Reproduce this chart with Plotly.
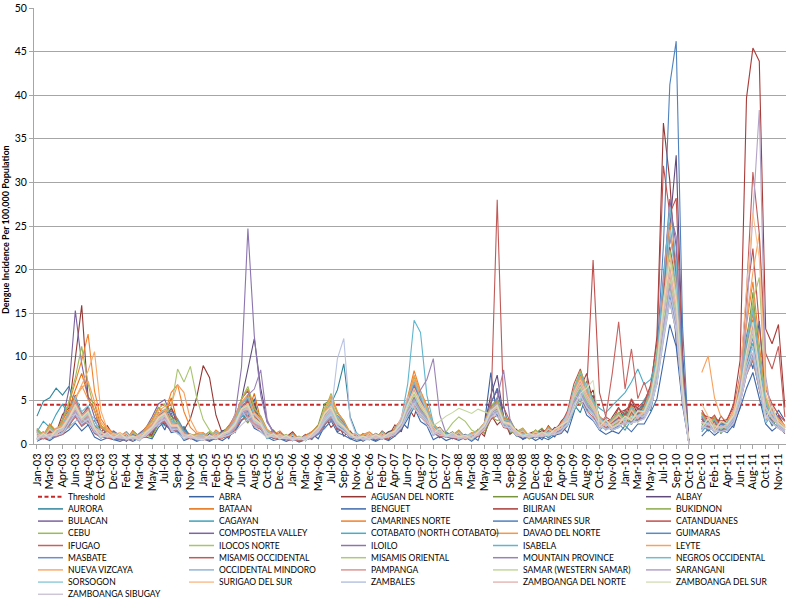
import plotly.graph_objects as go
import pandas as pd

# ---------------- data (4-weekly samples, first sample 2003-01-05) ----------------
START_DATE = "2003-01-05"
N_POINTS = 118
THRESHOLD = 4.5

TICK_LABELS = ["Jan-03","Mar-03","Apr-03","Jun-03","Aug-03","Oct-03","Dec-03",
               "Feb-04","Mar-04","May-04","Jul-04","Sep-04","Nov-04",
               "Jan-05","Feb-05","Apr-05","Jun-05","Aug-05","Oct-05","Dec-05",
               "Jan-06","Mar-06","May-06","Jul-06","Sep-06","Nov-06","Dec-06",
               "Feb-07","Apr-07","Jun-07","Aug-07","Oct-07","Dec-07",
               "Jan-08","Mar-08","May-08","Jul-08","Sep-08","Nov-08","Dec-08",
               "Feb-09","Apr-09","Jun-09","Aug-09","Oct-09","Nov-09",
               "Jan-10","Mar-10","May-10","Jul-10","Sep-10","Oct-10","Dec-10",
               "Feb-11","Apr-11","Jun-11","Aug-11","Oct-11","Nov-11"]

ABRA = [0.9,1.4,0.6,1.8,1.1,2.6,3.9,2.2,3.1,1.4,0.8,1.2,0.5,
        0.7,0.3,1.1,0.6,1.3,0.8,2.9,1.6,3.6,1.2,1.9,0.7,0.4,
        1.0,0.4,0.8,1.5,0.6,2.3,4.4,3.1,5.2,1.7,0.9,1.3,0.6,
        0.5,0.9,0.3,0.7,1.2,0.6,2.1,4.3,1.4,1.8,0.6,0.9,0.3,
        0.8,0.4,1.1,0.5,1.4,2.6,1.8,5.9,3.2,4.6,1.5,0.7,1.2,
        0.6,1.2,0.5,0.9,0.4,2.3,8.2,3.1,4.4,1.2,1.6,0.5,0.9,
        1.1,0.5,1.4,0.8,2.1,1.3,3.6,6.4,3.8,5.1,2.2,1.7,2.6,
        3.4,2.1,4.6,2.8,3.9,5.6,6.9,14.8,22.4,11.6,6.2,0,None,
        2.9,1.6,3.1,1.2,2.4,1.9,4.3,11.2,8.6,14.1,4.8,2.3,3.9,
        2.7]
AGUSAN_DEL_NORTE = [1.6,0.8,2.2,1.3,3.4,4.1,9.8,15.9,5.2,3.9,1.4,2.1,0.9,
        1.2,0.5,1.5,0.8,1.9,1.4,3.6,2.1,4.2,2.6,1.6,2.9,5.4,
        9.0,7.6,3.3,1.2,2.1,1.6,4.1,2.8,4.7,2.2,1.5,0.9,1.3,
        0.8,1.4,0.5,1.1,0.6,1.8,3.3,1.9,2.6,0.9,1.5,0.6,0.9,
        1.1,0.6,1.5,0.9,2.2,1.4,4.3,3.1,5.6,2.3,1.8,0.8,1.4,
        0.7,1.3,0.6,1.1,1.6,0.9,3.4,2.2,2.9,1.1,1.7,0.8,1.2,
        1.5,0.8,2.1,1.2,2.6,3.4,4.9,7.3,5.1,6.2,2.8,1.9,3.1,
        4.2,2.6,5.1,3.3,4.4,6.2,12.4,36.8,30.2,18.5,8.6,0,None,
        3.6,2.2,1.4,2.7,1.6,3.9,5.3,12.1,9.4,7.2,3.1,4.4,2.3,
        1.9]
AGUSAN_DEL_SUR = [1.3,0.7,1.8,1.1,2.4,1.9,4.2,2.6,3.5,1.7,2.2,0.9,1.4,
        0.8,1.3,0.5,1.0,1.6,0.9,2.4,3.3,1.8,2.7,1.2,0.6,1.1,
        0.9,0.5,1.2,0.7,1.8,1.3,3.4,2.4,4.1,1.9,1.1,1.6,0.7,
        1.0,0.4,0.8,0.5,1.3,2.2,4.6,5.1,2.3,1.6,0.9,0.5,1.2,
        0.7,1.2,0.6,1.4,0.9,2.7,3.1,5.4,3.3,2.8,1.3,1.9,0.8,
        1.4,0.7,1.1,0.6,1.7,1.2,2.8,3.9,2.1,2.4,1.0,1.5,0.7,
        1.2,1.8,0.9,1.6,2.3,2.9,6.1,4.8,7.2,3.5,2.6,1.9,2.4,
        2.8,3.6,2.2,4.1,3.2,5.3,8.9,13.9,19.3,15.2,7.1,0,None,
        2.6,1.7,2.9,1.3,2.2,3.6,6.7,11.2,17.4,9.1,4.3,2.8,3.1,
        1.8]
ALBAY = [0.6,1.2,0.7,1.5,1.9,3.6,5.6,3.2,4.3,1.9,0.9,1.5,1.0,
        1.1,0.5,1.0,0.6,1.4,1.8,3.4,2.2,1.6,2.5,1.3,0.7,1.2,
        0.6,1.2,0.8,1.5,1.8,2.9,5.1,8.6,12.1,6.4,2.6,1.4,0.9,
        0.6,1.1,0.5,1.0,1.3,1.6,2.9,3.4,1.8,1.3,0.9,0.5,1.0,
        0.6,1.2,0.9,1.4,1.7,2.5,4.6,6.3,4.1,3.7,1.6,1.9,1.1,
        1.3,0.7,1.1,0.6,1.5,2.1,5.6,7.9,3.1,2.6,1.5,0.8,1.2,
        0.8,1.5,1.1,1.9,1.6,2.8,4.9,6.3,4.4,5.6,2.1,2.9,1.6,
        2.4,3.4,2.6,4.1,3.6,5.8,8.6,17.6,24.8,33.1,10.4,0,None,
        1.9,2.9,1.7,3.2,2.3,2.9,5.4,9.1,12.3,6.6,4.2,2.7,3.3,
        2.0]
AURORA = [3.2,4.9,5.3,6.4,5.6,6.6,4.2,3.6,2.1,2.7,1.3,0.8,1.4,
        0.9,0.5,1.3,0.7,1.6,1.1,2.6,3.3,2.2,1.5,2.0,0.8,0.6,
        1.2,0.6,0.9,1.4,0.8,1.9,3.6,2.7,4.3,1.8,1.3,0.6,1.1,
        0.6,1.1,0.4,0.9,0.5,1.4,2.5,4.6,6.2,9.2,3.1,1.2,0.7,
        1.0,0.5,1.3,0.8,1.7,2.2,4.1,5.5,3.4,2.9,1.2,1.7,0.8,
        1.3,0.6,1.0,0.5,1.4,1.9,4.1,5.3,2.6,1.9,0.9,1.3,0.6,
        0.9,1.5,0.7,1.3,1.9,2.6,4.5,3.6,5.7,3.3,2.4,1.6,2.3,
        2.6,3.9,2.4,3.5,4.6,3.8,7.4,12.9,17.8,14.6,6.3,0,None,
        2.4,1.5,2.8,1.3,1.8,3.1,4.9,8.8,10.4,7.1,3.6,2.1,2.9,
        1.6]
BATAAN = [1.7,0.9,2.1,1.4,2.8,3.9,6.2,8.1,5.4,4.6,2.1,1.6,1.1,
        1.2,0.6,1.5,0.9,1.8,2.6,4.2,3.1,5.3,2.4,1.5,1.1,0.7,
        0.9,1.4,0.6,1.3,1.9,2.8,4.9,3.6,5.8,2.7,1.6,0.8,1.2,
        0.7,1.2,0.5,0.9,1.4,1.9,3.5,4.8,2.6,2.2,1.0,0.6,0.9,
        1.3,0.7,1.1,0.6,1.8,2.9,5.1,7.2,4.6,3.9,1.7,1.3,0.9,
        0.8,1.5,0.7,1.2,0.9,2.4,3.9,4.8,2.9,2.6,1.2,1.6,0.8,
        1.4,0.9,1.8,1.2,2.4,3.1,5.6,7.6,5.2,4.4,2.9,2.1,1.7,
        3.1,2.2,3.6,2.6,4.2,5.9,8.4,13.8,21.5,16.1,7.4,0,None,
        3.2,2.0,1.6,2.5,1.9,3.3,6.4,10.6,14.3,8.2,4.1,3.4,2.2,
        1.9]
BENGUET = [0.3,0.7,0.4,0.9,1.1,1.6,2.4,1.5,2.2,0.8,0.4,0.7,0.5,
        0.3,0.6,0.3,0.7,0.8,0.6,1.9,2.6,1.3,1.5,0.4,0.7,0.3,
        0.6,0.3,0.7,0.4,0.9,1.4,2.7,3.3,1.8,1.4,0.8,0.4,0.6,
        0.3,0.6,0.2,0.5,0.7,1.1,1.8,2.7,1.3,1.0,0.6,0.3,0.5,
        0.6,0.3,0.7,0.4,0.9,1.6,2.9,4.2,2.6,2.1,0.5,0.9,0.4,
        0.7,0.4,0.8,0.3,0.9,1.8,4.6,6.4,3.1,1.9,1.0,0.6,0.9,
        0.4,0.8,0.5,1.0,1.2,2.1,3.8,5.2,3.3,2.7,1.6,1.1,1.5,
        1.2,2.1,1.4,2.3,2.3,3.6,5.2,9.4,13.7,11.2,4.4,0,None,
        0.9,1.7,1.0,1.6,1.3,2.2,4.1,6.4,8.2,5.4,2.3,1.5,2.1,
        1.2]
BILIRAN = [1.0,1.1,1.3,1.4,1.9,3.1,4.4,2.8,3.6,1.9,1.4,1.2,1.0,
        0.9,0.8,0.9,1.1,1.3,1.0,2.8,3.3,4.1,2.2,1.5,1.1,0.9,
        0.8,0.9,0.8,1.1,1.5,2.6,3.7,5.1,2.9,2.3,1.3,1.0,0.9,
        0.8,0.7,0.7,0.8,1.0,1.5,2.4,3.2,1.7,1.5,1.0,0.8,0.7,
        0.9,0.9,1.0,1.2,1.6,2.4,4.1,5.6,3.7,3.1,1.6,1.2,1.1,
        1.0,0.9,0.9,1.0,1.3,2.1,3.6,4.3,2.4,2.1,1.3,1.1,1.0,
        1.3,1.5,1.6,1.7,2.4,3.2,5.3,6.4,8.1,4.6,3.1,2.6,2.8,
        3.6,3.9,4.4,4.2,4.9,6.6,9.9,15.7,22.6,18.3,7.6,0,None,
        3.4,3.1,2.9,2.6,2.8,4.6,9.6,39.7,45.4,43.9,13.2,11.5,13.7,
        4.2]
BUKIDNON = [0.9,0.8,1.0,1.2,1.5,1.9,3.6,2.3,2.9,1.4,1.2,1.0,0.9,
        0.8,0.7,0.7,0.9,1.0,0.8,2.3,2.9,3.4,1.6,1.2,1.0,0.8,
        0.7,0.7,0.8,0.9,1.2,2.1,3.3,2.6,4.0,1.8,1.1,0.9,0.8,
        0.7,0.6,0.6,0.7,0.9,1.8,4.1,5.0,2.8,1.9,1.0,0.8,0.7,
        0.8,0.8,0.9,0.9,1.3,2.3,3.6,4.7,3.1,2.6,1.4,1.1,1.0,
        0.8,0.8,0.8,0.9,1.1,1.8,3.1,2.7,2.9,1.4,1.2,0.9,0.8,
        1.0,1.1,1.2,1.4,1.7,2.8,5.6,4.4,6.9,3.6,2.4,2.0,2.1,
        2.5,2.7,2.9,3.1,3.4,4.9,8.7,13.1,18.2,13.3,5.4,0,None,
        2.2,2.0,1.8,1.7,1.9,2.7,5.1,8.7,9.6,6.4,3.5,2.6,2.4,
        1.6]
BULACAN = [1.6,0.9,2.1,1.3,2.8,6.2,15.3,9.2,5.4,3.1,1.9,1.2,1.5,
        0.9,1.4,0.6,1.2,1.8,3.1,4.6,5.1,3.2,2.6,1.3,0.9,0.6,
        1.1,0.6,1.3,0.8,1.9,2.8,5.2,6.1,3.8,2.9,1.4,1.1,0.7,
        0.6,1.1,0.5,0.9,1.2,1.9,3.1,3.6,2.1,1.8,0.8,1.2,0.6,
        1.2,0.7,1.0,0.6,1.6,2.6,4.9,6.6,5.1,3.8,1.9,1.3,0.9,
        0.8,1.3,0.6,1.1,1.5,2.4,4.8,6.1,3.1,2.6,1.2,1.5,0.7,
        1.2,0.8,1.7,1.1,2.2,3.1,5.7,7.3,5.4,4.3,2.6,1.9,2.6,
        3.3,2.4,4.1,2.9,3.8,5.3,9.4,16.4,23.7,20.6,7.8,0,None,
        2.9,1.8,2.6,1.4,2.3,3.4,5.9,10.2,13.6,8.3,4.4,2.8,3.2,
        1.9]
CAGAYAN = [1.4,2.6,1.9,3.4,4.6,3.2,3.8,2.1,2.6,1.3,0.8,1.4,0.7,
        1.2,0.6,1.0,0.5,1.3,1.8,2.6,2.1,2.9,1.3,0.6,1.1,0.8,
        0.5,1.0,0.6,1.2,1.4,1.9,3.1,3.6,2.2,1.9,0.6,1.0,0.5,
        0.9,0.4,0.8,0.4,0.9,1.3,2.2,3.1,3.6,2.6,0.7,1.1,0.6,
        0.5,1.0,0.6,1.2,1.4,2.1,3.6,4.8,3.2,2.7,1.5,1.0,1.3,
        1.1,0.6,1.0,0.5,1.1,1.7,3.2,3.6,2.1,2.0,1.2,0.8,1.1,
        0.7,1.2,0.8,1.4,1.6,2.4,4.5,5.8,4.1,3.4,1.6,2.2,1.5,
        2.3,1.6,2.8,3.6,5.1,5.9,8.4,14.1,20.5,14.6,5.3,0,None,
        1.4,2.3,1.5,2.2,1.7,2.8,4.9,8.3,9.8,6.4,2.4,3.4,1.9,
        1.5]
CAMARINES_NORTE = [1.8,1.0,2.3,1.5,2.6,4.6,7.1,9.6,12.6,6.1,2.9,1.8,1.3,
        1.1,0.6,1.4,0.9,1.8,2.8,4.2,3.6,5.9,6.8,3.7,1.9,1.2,
        1.3,0.7,1.6,1.0,2.1,3.2,5.1,6.3,4.1,3.2,1.7,1.1,1.5,
        0.7,1.2,0.5,1.0,1.4,2.1,3.8,5.3,3.6,2.7,1.3,0.9,1.1,
        1.4,0.8,1.3,0.7,1.9,2.8,5.4,8.4,6.1,4.4,2.3,1.6,1.1,
        1.0,1.6,0.8,1.3,1.1,2.5,4.3,4.9,3.0,2.8,1.4,1.8,0.9,
        1.6,1.0,2.0,1.3,2.4,3.4,6.3,8.1,6.2,5.1,3.2,2.3,2.9,
        3.6,2.7,4.4,3.1,4.3,6.1,9.8,17.1,25.4,19.3,8.1,0,None,
        3.6,2.3,3.1,1.7,2.6,3.8,6.9,13.7,18.6,11.4,5.3,3.6,2.8,
        2.1]
CAMARINES_SUR = [1.0,1.0,1.1,1.3,1.8,3.1,4.8,3.2,3.9,1.9,1.4,1.1,1.0,
        0.9,0.8,0.9,1.0,1.3,2.1,3.2,3.8,2.4,2.2,1.3,1.0,0.8,
        0.8,0.9,0.9,1.0,1.4,2.4,4.2,5.1,3.3,2.6,1.5,1.1,0.9,
        0.8,0.7,0.7,0.8,1.1,1.6,2.9,3.9,2.4,1.9,1.1,0.9,0.8,
        0.8,0.8,0.9,1.0,1.4,2.5,4.6,6.8,5.1,3.6,1.9,1.4,1.1,
        1.0,0.9,0.9,1.0,1.3,2.2,3.8,4.6,2.7,2.4,1.4,1.1,1.0,
        1.1,1.2,1.3,1.5,2.1,3.3,5.9,7.9,6.1,4.6,2.9,2.3,2.5,
        3.0,3.2,3.3,3.6,3.9,5.9,10.3,22.8,41.2,46.2,13.4,0,None,
        2.9,2.6,2.3,2.1,2.4,3.5,6.6,12.4,15.8,9.8,4.7,3.3,2.6,
        1.9]
CATANDUANES = [1.4,0.7,1.8,1.1,2.3,3.4,5.1,3.3,4.2,2.1,1.4,0.9,1.3,
        0.8,1.3,0.6,1.1,1.5,2.2,3.3,3.6,2.1,2.4,1.2,0.8,0.6,
        1.1,0.6,1.2,0.8,1.7,2.6,4.3,4.9,3.1,2.6,1.5,0.8,1.2,
        0.6,1.1,0.5,0.9,1.2,1.7,2.8,3.5,2.2,1.9,0.8,1.1,0.5,
        1.0,0.6,1.1,0.7,1.6,2.4,4.4,5.9,4.3,3.4,1.9,1.3,0.9,
        0.9,1.3,0.7,1.1,1.5,2.1,3.6,4.3,2.6,2.4,1.1,1.4,0.8,
        1.5,1.0,1.9,1.4,2.3,3.8,6.9,8.6,6.2,21.1,5.9,3.1,2.6,
        4.1,3.3,5.2,3.9,4.6,6.8,11.7,31.9,26.4,28.2,9.4,0,None,
        3.9,2.6,3.3,2.0,2.9,4.2,7.9,16.8,22.4,13.6,6.3,4.6,3.4,
        2.6]
CEBU = [1.7,1.0,2.1,1.3,2.8,4.9,7.6,11.2,6.9,3.8,2.1,1.5,1.1,
        1.1,0.6,1.4,0.9,1.7,2.6,4.1,4.6,2.9,2.6,1.5,0.9,1.2,
        0.9,1.4,0.7,1.3,1.9,2.9,5.2,6.6,4.1,3.2,1.6,1.1,0.8,
        1.1,0.6,0.9,0.5,1.3,1.9,3.8,5.8,3.7,2.6,1.2,0.8,1.0,
        1.2,0.7,1.4,0.9,1.7,2.8,5.2,7.7,5.6,4.3,2.2,1.5,1.0,
        1.0,1.5,0.7,1.2,1.6,2.4,4.3,5.1,3.1,2.8,1.4,1.8,0.9,
        1.6,1.0,1.9,1.3,2.3,3.4,6.4,8.4,6.6,5.1,3.1,2.3,2.9,
        3.6,2.8,4.3,3.2,4.2,6.1,10.6,16.9,22.3,17.6,7.3,0,None,
        3.4,2.2,2.9,1.6,2.5,3.6,6.8,11.8,16.1,10.3,4.9,3.4,2.7,
        2.0]
COMPOSTELA_VALLEY = [0.6,1.1,0.7,1.4,1.8,2.7,3.9,2.6,3.2,1.6,0.7,1.2,0.6,
        1.0,0.5,0.9,0.4,1.2,1.7,2.5,2.9,1.8,1.9,0.6,1.0,0.5,
        0.5,0.9,0.5,1.1,1.4,2.0,3.4,3.7,2.3,2.0,0.7,1.1,0.6,
        0.9,0.5,0.8,0.4,1.0,1.8,3.6,4.5,2.6,1.9,1.1,0.6,0.9,
        0.6,1.0,0.6,1.1,1.4,2.4,4.1,5.4,4.0,3.2,1.0,1.5,0.8,
        1.1,0.6,0.9,0.5,1.3,2.0,3.4,4.1,2.4,2.2,1.3,0.7,1.1,
        0.8,1.3,0.9,1.5,1.9,2.9,5.4,6.9,5.3,4.2,1.9,2.6,1.7,
        2.1,2.9,2.4,3.6,3.5,5.1,8.7,18.3,28.1,22.6,7.9,0,None,
        1.7,2.6,1.5,2.3,2.0,3.1,5.7,9.8,12.7,7.8,2.8,4.1,2.3,
        1.7]
COTABATO = [1.0,1.0,1.2,1.4,1.8,2.9,4.2,2.8,3.4,1.8,1.3,1.1,0.9,
        0.9,0.8,0.8,0.9,1.2,1.8,2.8,3.2,2.0,2.1,1.2,0.9,0.8,
        0.8,0.8,0.9,1.1,1.3,2.2,3.6,4.0,2.6,2.2,1.3,1.0,0.9,
        0.8,0.7,0.7,0.8,1.0,1.7,3.3,4.1,3.0,2.1,1.2,0.9,0.8,
        0.9,0.9,1.0,1.1,1.4,2.4,4.3,5.7,4.3,3.3,1.7,1.3,1.1,
        1.0,0.9,0.9,1.0,1.2,2.0,3.5,4.2,2.5,2.2,1.3,1.1,1.0,
        1.1,1.2,1.3,1.4,2.0,3.1,5.7,6.6,4.9,4.8,4.1,3.6,4.4,
        5.2,5.9,7.1,8.6,6.8,7.4,9.6,14.8,17.9,20.2,7.1,0,None,
        2.6,2.3,2.1,1.9,2.1,3.0,5.4,9.1,11.6,7.3,3.9,2.9,2.3,
        1.7]
DAVAO_DEL_NORTE = [1.5,0.8,1.9,1.2,2.4,3.7,5.1,6.7,5.1,3.8,2.0,1.4,1.0,
        0.9,1.4,0.6,1.1,1.5,2.2,3.5,3.9,2.6,2.4,1.3,0.8,1.1,
        1.1,0.6,1.3,0.8,1.7,2.7,4.5,5.4,3.6,2.8,1.5,0.9,1.2,
        0.7,1.1,0.5,0.9,1.2,2.0,4.1,5.5,3.7,2.5,1.1,0.8,1.0,
        1.3,0.7,1.2,0.7,1.7,2.9,5.1,7.9,6.0,4.3,2.3,1.5,1.0,
        0.9,1.4,0.7,1.2,1.5,2.4,4.1,4.7,2.9,2.6,1.3,1.7,0.8,
        1.5,0.9,1.8,1.3,2.3,3.3,6.1,7.8,6.2,4.8,3.0,2.2,2.7,
        3.4,2.6,4.1,3.0,4.0,5.7,9.4,15.6,19.8,15.2,6.6,0,None,
        3.2,2.1,2.7,1.5,2.4,3.4,6.3,11.2,14.9,9.3,4.6,3.1,2.5,
        1.8]
GUIMARAS = [0.5,1.0,0.6,1.4,1.8,2.8,4.1,2.7,3.3,1.6,0.7,1.2,0.6,
        1.0,0.5,0.8,0.4,1.2,1.7,2.8,3.4,3.8,2.9,1.6,0.9,0.6,
        0.5,0.9,0.6,1.1,1.5,2.2,3.8,4.4,2.8,2.3,0.7,1.2,0.6,
        0.9,0.4,0.7,0.4,1.0,1.5,2.6,3.3,2.0,1.7,1.0,0.5,0.8,
        0.5,1.0,0.6,1.1,1.4,2.3,4.2,5.8,4.4,3.3,1.1,1.7,0.9,
        1.1,0.6,0.9,0.5,1.2,2.0,3.5,4.1,2.4,2.2,1.3,0.8,1.1,
        0.8,1.2,0.9,1.5,1.9,2.9,5.3,6.7,5.2,4.1,1.8,2.6,1.7,
        2.1,2.8,2.5,3.4,3.4,5.0,8.4,14.3,21.2,17.4,6.3,0,None,
        1.7,2.7,1.4,2.3,2.0,3.0,5.5,9.6,12.3,7.7,2.7,4.0,2.2,
        1.6]
IFUGAO = [0.6,0.6,0.7,0.8,1.1,2.1,3.1,2.0,2.6,1.2,0.8,0.7,0.6,
        0.5,0.5,0.5,0.6,0.8,1.4,2.2,2.6,1.5,1.6,0.8,0.6,0.6,
        0.5,0.5,0.6,0.7,0.9,1.7,2.8,3.2,2.0,1.7,0.9,0.7,0.6,
        0.5,0.4,0.4,0.5,0.7,1.2,2.2,2.9,1.7,1.4,0.8,0.6,0.5,
        0.6,0.6,0.6,0.7,1.0,1.8,3.3,4.3,3.1,2.5,1.2,0.9,0.8,
        0.7,0.6,0.6,0.7,0.9,1.6,2.8,3.3,1.9,1.7,1.0,0.8,0.7,
        0.8,0.9,1.0,1.1,1.4,2.3,4.2,5.1,3.9,3.1,2.2,3.2,8.1,
        14.0,6.3,10.9,5.2,7.1,4.9,7.2,12.6,16.4,12.8,5.1,0,None,
        2.0,1.8,1.6,1.4,1.6,2.5,4.7,7.9,9.7,6.2,3.3,2.4,1.8,
        1.3]
ILOCOS_NORTE = [1.1,0.6,1.5,0.9,1.8,2.8,3.9,2.6,3.3,1.6,1.2,0.7,1.0,
        0.7,1.1,0.5,1.0,1.4,1.9,2.7,3.4,4.2,8.6,7.1,8.9,5.3,
        2.8,1.6,0.9,1.2,1.6,2.5,4.7,5.6,3.3,2.6,1.3,0.8,1.1,
        0.6,1.0,0.4,0.8,1.1,1.6,3.1,3.9,2.5,1.9,0.9,1.1,0.5,
        1.0,0.6,1.1,0.7,1.4,2.2,3.9,5.2,3.9,3.1,1.6,1.1,1.4,
        2.4,3.1,2.6,1.6,1.2,1.9,3.3,3.8,2.2,2.1,1.0,1.3,0.6,
        1.1,0.8,1.4,1.0,1.8,2.7,5.1,6.4,4.9,3.9,2.4,1.8,2.2,
        2.8,2.0,3.4,2.5,3.4,5.0,8.6,15.2,22.1,16.8,6.2,0,None,
        2.6,1.7,2.2,1.3,2.0,3.1,5.8,10.8,16.4,19.1,5.3,2.9,2.3,
        1.7]
ILOILO = [1.3,0.7,1.7,1.0,2.1,3.3,4.8,3.2,3.9,2.0,1.3,0.8,1.2,
        0.8,1.2,0.5,1.0,1.4,2.1,3.3,3.9,2.4,2.2,1.2,0.8,0.6,
        1.1,0.6,1.3,0.8,1.8,3.4,8.8,24.7,12.4,5.6,2.5,1.4,0.9,
        0.7,1.1,0.5,0.9,1.2,1.8,3.2,4.1,2.6,2.0,0.9,1.2,0.6,
        1.2,0.7,1.1,0.7,1.6,2.6,4.8,6.8,5.1,3.8,2.0,1.3,0.9,
        0.9,1.3,0.6,1.1,1.4,2.3,3.9,4.7,2.8,2.5,1.2,1.5,0.8,
        1.4,0.9,1.7,1.2,2.2,3.2,5.9,7.6,5.9,4.6,2.9,2.1,2.6,
        3.3,2.4,4.0,2.9,3.9,5.6,9.5,19.4,26.7,23.8,8.2,0,None,
        3.1,2.0,2.7,1.5,2.3,3.5,6.2,11.3,15.2,9.1,4.5,3.1,2.5,
        1.8]
ISABELA = [0.5,1.0,0.6,1.3,1.7,2.6,3.8,2.5,3.1,1.5,0.7,1.1,0.6,
        1.0,0.5,0.8,0.4,1.2,1.7,2.6,3.1,1.9,1.8,0.6,0.9,0.5,
        0.5,0.9,0.6,1.1,1.4,2.0,3.5,3.9,2.4,2.0,0.7,1.1,0.6,
        0.9,0.4,0.7,0.4,1.0,1.5,2.7,3.7,2.3,1.7,1.0,0.5,0.8,
        0.5,0.9,0.6,1.1,1.3,2.9,6.9,14.2,12.8,5.6,2.4,1.2,0.8,
        1.1,0.6,0.9,0.5,1.2,1.9,3.3,3.9,2.2,2.1,1.3,0.8,1.1,
        0.8,1.2,0.9,1.4,1.8,2.7,5.0,6.2,4.7,3.7,1.8,2.4,1.6,
        1.9,2.7,2.3,3.2,3.2,4.7,7.8,13.4,18.7,14.2,5.6,0,None,
        1.6,2.4,1.3,2.1,1.8,2.8,5.2,8.9,11.1,7.0,2.6,3.7,2.0,
        1.5]
LEYTE = [1.5,0.8,1.9,1.2,2.3,3.6,5.4,6.4,7.2,4.9,2.5,1.6,1.1,
        1.0,0.6,1.3,0.8,1.6,2.5,3.8,4.3,4.6,6.8,5.9,2.8,1.4,
        1.2,0.7,1.4,0.9,1.8,2.8,4.8,5.7,3.6,2.9,1.6,1.0,1.2,
        0.7,1.1,0.5,0.9,1.2,1.9,3.7,4.8,3.1,2.4,1.1,0.8,1.0,
        1.3,0.7,1.2,0.7,1.7,2.7,5.1,7.4,5.6,4.1,2.2,1.5,1.0,
        0.9,1.4,0.7,1.2,1.5,2.4,4.1,4.7,2.8,2.6,1.3,1.7,0.8,
        1.5,0.9,1.8,1.3,2.3,3.3,6.1,7.7,6.0,4.7,3.0,2.2,2.7,
        3.4,2.6,4.1,3.0,4.0,5.8,9.6,16.2,20.8,15.7,6.7,0,None,
        8.2,10.1,5.3,3.1,2.6,3.8,7.3,14.2,19.7,24.1,6.8,3.8,2.9,
        2.1]
MASBATE = [0.9,0.8,1.0,1.1,1.5,2.6,3.7,2.4,3.0,1.5,1.1,0.9,0.8,
        0.7,0.7,0.7,0.8,1.0,1.6,2.5,3.0,1.8,1.8,1.0,0.8,0.7,
        0.7,0.7,0.8,0.9,1.2,1.9,3.4,3.8,2.3,1.9,1.1,0.8,0.8,
        0.6,0.6,0.6,0.7,0.8,1.1,1.8,2.5,3.3,2.4,0.9,0.7,0.6,
        0.7,0.7,0.8,0.9,1.2,2.0,3.8,5.2,3.8,2.9,1.5,1.1,0.9,
        0.8,0.8,0.8,0.9,1.1,1.8,3.2,3.8,2.1,2.0,1.1,0.9,0.8,
        0.9,1.0,1.1,1.2,1.6,2.5,4.8,5.9,4.5,3.6,2.3,1.8,1.9,
        2.3,2.4,2.6,2.8,3.0,4.4,7.2,12.3,17.1,13.4,5.2,0,None,
        2.1,1.9,1.7,1.5,1.7,2.6,4.9,8.3,10.4,6.6,3.5,2.5,1.9,
        1.4]
MISAMIS_OCCIDENTAL = [1.1,0.6,1.5,0.9,1.8,2.8,4.1,2.7,3.4,1.7,1.2,0.7,1.0,
        0.7,1.1,0.5,0.9,1.2,1.8,2.7,3.2,2.0,2.0,1.0,0.7,0.9,
        0.9,0.5,1.2,0.7,1.5,2.1,3.7,4.1,2.5,2.1,1.1,0.7,1.0,
        0.6,1.0,0.4,0.8,1.1,1.7,3.1,4.0,2.4,1.9,0.9,1.1,0.5,
        1.1,0.6,1.1,0.7,1.4,2.3,4.2,5.5,4.1,3.2,1.7,1.1,0.8,
        0.8,1.2,0.6,1.0,1.3,2.1,3.6,28.0,4.2,2.6,1.2,1.4,0.7,
        1.3,0.8,1.6,1.1,2.0,3.0,5.6,7.0,5.4,4.2,2.7,1.9,2.4,
        3.0,2.2,3.7,2.7,3.6,5.3,8.8,17.1,24.2,19.6,7.1,0,None,
        2.9,1.9,2.6,1.5,2.2,3.2,6.8,17.4,31.2,24.1,10.4,8.6,11.2,
        3.1]
MISAMIS_ORIENTAL = [0.6,1.1,0.7,1.5,1.9,2.9,4.3,2.9,3.5,1.8,0.8,1.3,0.7,
        1.1,0.6,0.9,0.5,1.3,1.9,2.9,3.3,2.1,2.1,0.7,1.1,0.6,
        0.5,0.9,0.6,1.2,1.5,2.2,3.9,4.3,2.6,2.2,0.7,1.2,0.6,
        1.0,0.5,0.8,0.4,1.2,1.9,4.0,5.2,3.0,2.1,1.2,0.6,0.9,
        0.6,1.1,0.7,1.2,1.5,2.4,4.4,5.8,4.3,3.4,1.2,1.8,0.9,
        1.2,0.7,1.0,0.6,1.4,2.1,3.7,4.3,2.5,2.3,1.5,0.9,1.2,
        0.9,1.3,1.0,1.6,2.1,3.1,5.8,7.3,5.6,4.4,2.0,2.8,1.8,
        2.3,3.1,2.7,3.8,3.7,5.3,9.1,16.3,20.6,16.1,6.5,0,None,
        1.9,2.9,1.6,2.6,2.2,3.3,6.0,10.5,13.9,8.6,2.9,4.4,2.4,
        1.8]
MOUNTAIN_PROVINCE = [0.7,0.7,0.8,0.9,1.2,2.3,3.3,2.2,2.7,1.3,0.9,0.8,0.7,
        0.6,0.6,0.6,0.7,0.9,1.5,2.3,2.7,1.6,1.6,0.9,0.7,0.6,
        0.6,0.6,0.7,0.8,1.0,1.9,3.3,5.6,6.3,8.5,2.8,1.1,0.8,
        0.6,0.5,0.5,0.6,0.7,1.3,2.4,3.2,1.9,1.5,0.8,0.7,0.6,
        0.6,0.6,0.7,0.8,1.0,2.0,3.5,4.9,6.2,7.4,9.8,3.4,1.2,
        0.8,0.7,0.7,0.8,1.0,1.8,3.3,5.3,8.5,2.8,1.2,1.0,0.8,
        0.9,1.0,1.0,1.1,1.5,2.5,4.8,5.9,4.5,3.6,2.3,1.8,1.9,
        2.3,2.4,2.6,2.8,3.0,4.4,7.2,13.5,19.3,15.3,5.4,0,None,
        2.1,1.9,1.7,1.5,1.7,2.6,4.8,8.4,10.2,6.5,3.5,2.4,1.9,
        1.4]
NEGROS_OCCIDENTAL = [1.4,0.8,1.8,1.1,2.2,3.6,5.4,3.7,4.4,2.2,1.5,0.9,1.3,
        0.9,1.3,0.6,1.1,1.5,2.2,3.4,4.0,2.5,2.4,1.2,0.8,1.0,
        1.1,0.6,1.4,0.8,1.7,2.6,4.6,5.3,3.3,2.7,1.4,0.9,1.2,
        0.7,1.1,0.5,0.9,1.2,1.9,3.6,4.6,2.9,2.2,1.0,1.3,0.6,
        1.3,0.7,1.3,0.8,1.7,2.7,5.0,7.1,5.3,4.0,2.1,1.4,1.0,
        0.9,1.4,0.7,1.1,1.5,2.3,4.0,4.7,2.8,2.6,1.2,1.6,0.8,
        1.5,1.0,1.8,1.3,2.3,3.4,6.3,8.1,6.3,4.9,3.1,2.2,2.8,
        3.5,2.6,4.2,3.1,4.1,6.0,10.1,18.6,27.2,20.8,7.4,0,None,
        3.3,2.1,2.8,1.6,2.5,3.5,6.4,11.6,15.3,9.5,4.7,3.2,2.6,
        2.0]
NUEVA_VIZCAYA = [0.7,1.4,0.8,1.8,2.1,3.3,5.2,6.8,8.4,10.6,3.8,1.7,1.1,
        1.3,0.7,1.0,0.6,1.4,2.1,3.4,3.9,2.4,2.2,0.8,1.2,0.7,
        0.6,1.0,0.7,1.2,1.5,2.3,4.0,4.6,2.9,2.4,0.8,1.3,0.7,
        1.0,0.5,0.8,0.5,1.1,1.7,2.9,3.8,2.4,1.9,1.1,0.6,0.9,
        0.6,1.1,0.7,1.2,1.5,2.3,4.3,6.0,4.5,3.4,1.2,1.8,0.9,
        1.2,0.7,1.0,0.6,1.3,2.1,3.6,4.2,2.5,2.3,1.4,0.8,1.1,
        0.9,1.3,1.0,1.6,2.1,3.0,5.5,6.9,5.4,4.2,1.9,2.7,1.8,
        2.3,3.1,2.7,3.7,3.6,5.2,8.5,14.8,19.6,15.4,6.1,0,None,
        1.9,2.9,1.6,2.6,2.2,3.2,5.8,10.2,13.4,8.3,2.8,4.3,2.3,
        1.7]
OCCIDENTAL_MINDORO = [0.8,0.8,0.9,1.0,1.3,1.9,2.6,3.0,3.6,2.9,1.0,0.8,0.8,
        0.7,0.7,0.7,0.8,1.0,1.6,2.5,2.9,1.8,1.8,1.0,0.8,0.7,
        0.7,0.6,0.7,0.8,1.1,1.8,3.3,3.6,2.2,1.9,1.0,0.8,0.7,
        0.6,0.6,0.6,0.6,0.8,1.4,2.4,3.2,2.0,1.5,0.9,0.7,0.6,
        0.7,0.7,0.8,0.9,1.1,1.9,3.7,5.0,3.7,2.8,1.4,1.0,0.9,
        0.8,0.8,0.8,0.8,1.0,1.7,3.1,3.7,2.0,1.9,1.1,0.9,0.8,
        0.9,0.9,1.0,1.2,1.5,2.4,4.6,5.7,4.3,3.5,2.2,1.7,1.8,
        2.2,2.3,2.4,2.6,2.9,4.2,6.9,11.8,16.2,12.9,5.0,0,None,
        2.0,1.8,1.6,1.4,1.6,2.5,4.7,8.0,9.9,6.3,3.3,2.4,1.8,
        1.4]
PAMPANGA = [0.7,1.3,0.8,1.7,2.0,3.2,4.9,3.3,4.0,2.0,0.8,1.4,0.7,
        1.2,0.6,1.0,0.6,1.4,2.1,3.1,3.7,2.3,2.2,0.8,1.1,0.6,
        0.6,1.0,0.7,1.3,1.6,3.4,4.8,3.1,2.2,1.8,0.8,1.3,0.7,
        1.0,0.5,0.8,0.5,1.1,1.8,3.0,4.0,2.5,2.0,1.2,0.6,0.9,
        0.6,1.2,0.7,1.2,1.5,2.4,4.4,6.2,4.6,3.5,1.2,1.8,0.9,
        1.3,0.8,1.0,0.6,1.4,2.1,3.7,4.3,2.5,2.3,1.5,0.9,1.2,
        0.9,1.4,1.0,1.7,2.2,3.1,5.7,7.1,5.5,4.3,2.0,2.8,1.9,
        2.4,3.2,2.8,3.8,3.7,5.3,8.9,15.4,20.3,15.9,6.3,0,None,
        1.9,3.0,1.6,2.6,2.3,3.3,5.9,10.3,13.7,8.5,2.9,4.4,2.4,
        1.8]
SAMAR_WESTERN_SAMAR = [1.0,1.0,1.1,1.2,1.6,3.0,4.1,2.8,3.5,1.8,1.3,1.0,0.9,
        0.9,0.8,0.8,0.9,1.1,1.9,2.8,3.3,2.0,2.0,1.1,0.9,0.8,
        0.8,0.8,0.9,1.0,1.3,2.2,3.8,4.2,2.6,2.2,1.2,1.0,0.9,
        0.8,0.7,0.7,0.7,0.9,1.6,2.8,3.6,2.3,1.8,1.0,0.8,0.8,
        0.9,0.9,0.9,1.0,1.3,2.2,4.1,5.6,4.2,3.2,2.1,2.6,3.2,
        3.6,4.1,3.8,3.5,4.0,3.7,3.4,3.9,2.4,2.2,1.3,1.1,1.0,
        1.1,1.1,1.2,1.4,1.8,2.9,5.3,6.6,5.1,4.0,2.6,2.1,2.2,
        2.7,2.8,3.0,3.2,3.5,5.0,8.2,14.1,18.9,14.6,5.8,0,None,
        2.4,2.2,2.0,1.8,2.0,3.1,5.5,9.6,12.5,7.8,4.0,2.9,2.2,
        1.6]
SARANGANI = [0.5,1.0,0.6,1.4,1.7,2.6,3.8,2.5,3.1,1.5,0.7,1.1,0.6,
        1.0,0.5,0.8,0.4,1.2,1.7,2.6,3.0,1.9,1.8,0.6,0.9,0.5,
        0.5,0.8,0.6,1.0,1.4,1.9,3.5,3.9,2.4,2.0,0.7,1.1,0.6,
        0.9,0.4,0.7,0.4,1.0,1.6,3.3,4.0,2.5,1.8,1.0,0.5,0.8,
        0.5,1.0,0.6,1.0,1.3,2.1,3.9,5.1,3.8,3.0,1.0,1.5,0.8,
        1.1,0.6,0.9,0.5,1.2,1.8,3.3,3.8,2.2,2.1,1.3,0.8,1.1,
        0.8,1.2,0.9,1.4,1.8,2.6,4.9,6.1,4.6,3.7,1.7,2.4,1.6,
        1.9,2.6,2.3,3.2,3.2,4.6,7.5,13.2,18.4,14.1,5.4,0,None,
        1.6,2.5,1.3,2.1,1.9,3.1,6.3,14.6,26.3,38.3,7.8,3.1,2.3,
        1.5]
SORSOGON = [1.0,1.0,1.1,1.2,1.6,3.0,4.3,2.9,3.6,1.8,1.3,1.0,0.9,
        0.9,0.8,0.8,0.9,1.1,1.9,2.9,3.4,2.1,2.1,1.1,0.9,0.8,
        0.8,0.8,0.9,1.0,1.3,2.2,3.9,4.4,2.7,2.2,1.2,1.0,0.9,
        0.8,0.7,0.7,0.7,0.9,1.6,2.9,3.7,2.3,1.8,1.0,0.8,0.8,
        0.9,0.9,0.9,1.0,1.3,1.9,3.1,4.4,5.9,3.6,1.7,1.3,1.1,
        1.0,1.0,1.0,1.1,1.3,2.0,3.6,4.2,2.4,2.2,1.3,1.1,1.0,
        1.1,1.2,1.3,1.4,1.8,2.1,3.9,5.2,7.0,4.2,2.7,2.2,2.3,
        2.8,2.9,3.1,3.3,3.6,5.1,8.6,15.1,24.6,18.2,6.2,0,None,
        2.5,2.3,2.1,1.9,2.1,3.2,5.7,10.0,13.1,8.2,4.2,3.0,2.3,
        1.7]
SURIGAO_DEL_SUR = [1.3,0.7,1.7,1.0,2.0,3.1,4.6,3.1,3.8,1.9,1.4,0.8,1.2,
        0.8,1.2,0.5,1.0,1.4,2.0,3.1,3.6,2.2,2.2,1.1,0.7,1.0,
        1.0,0.6,1.2,0.8,1.6,2.4,4.1,4.6,2.9,2.4,1.3,0.8,1.1,
        0.6,1.0,0.5,0.8,1.2,1.9,3.6,4.4,2.7,2.0,1.0,1.2,0.5,
        1.2,0.6,1.2,0.8,1.5,2.5,4.6,6.4,4.8,3.6,1.9,1.2,0.9,
        0.8,1.3,0.6,1.0,1.4,2.2,3.8,4.5,2.6,2.4,1.1,1.5,0.7,
        1.4,0.9,1.7,1.2,2.2,3.2,5.9,7.4,5.7,4.5,2.9,2.0,2.6,
        3.3,2.4,3.9,2.9,3.8,5.5,9.3,16.5,21.7,16.9,6.7,0,None,
        4.6,3.2,2.1,1.9,2.2,3.7,7.6,17.8,26.5,21.3,5.8,3.5,2.7,
        2.0]
ZAMBALES = [0.5,1.0,0.6,1.4,1.7,3.1,3.4,2.9,2.5,1.9,0.7,1.1,0.6,
        1.0,0.5,0.8,0.4,1.2,2.0,2.1,3.4,1.6,1.2,0.6,0.9,0.5,
        0.5,0.8,0.6,1.0,1.4,2.6,3.9,2.8,2.1,1.5,0.7,1.1,0.6,
        0.9,0.4,0.7,0.4,1.0,1.5,2.6,3.4,9.8,12.1,2.9,0.9,0.5,
        0.5,1.0,0.6,1.0,1.3,2.6,4.6,4.1,3.2,2.2,1.0,1.5,0.8,
        1.1,0.6,0.9,0.5,1.2,2.4,3.9,3.1,2.6,1.6,1.3,0.8,1.1,
        0.8,1.2,0.9,1.4,1.8,3.4,5.6,5.1,3.7,2.8,1.7,2.4,1.6,
        1.9,2.6,2.3,3.2,3.2,4.6,7.4,12.8,17.6,13.9,5.3,0,None,
        1.6,2.4,1.3,2.1,1.8,2.8,5.2,8.9,11.2,7.0,2.5,3.7,2.0,
        1.5]
ZAMBOANGA_DEL_NORTE = [1.0,0.9,1.1,1.2,1.6,2.8,4.1,2.7,3.4,1.7,1.2,1.0,0.9,
        0.8,0.8,0.8,0.9,1.1,1.8,2.7,3.2,2.0,2.0,1.1,0.9,0.8,
        0.8,0.8,0.9,1.0,1.3,2.1,3.7,4.1,2.5,2.1,1.2,0.9,0.9,
        0.8,0.7,0.7,0.8,0.9,1.7,3.1,4.0,2.4,1.9,1.0,0.8,0.8,
        0.9,0.9,0.9,1.0,1.4,3.1,5.5,4.2,3.3,2.4,1.6,1.2,1.0,
        0.9,0.9,0.9,1.0,1.2,2.1,3.6,4.2,2.4,2.2,1.2,1.0,0.9,
        1.1,1.1,1.2,1.4,1.8,3.0,5.6,7.0,5.4,4.2,2.7,2.1,2.2,
        2.7,2.8,3.0,3.2,3.6,5.3,8.8,15.1,19.8,15.6,6.1,0,None,
        2.5,2.3,2.1,1.9,2.2,3.2,5.7,9.9,13.0,8.1,4.2,3.0,2.3,
        1.7]
ZAMBOANGA_DEL_SUR = [0.6,1.2,0.7,1.6,1.9,3.0,4.4,3.0,3.7,1.8,0.8,1.3,0.7,
        1.2,0.6,0.9,0.5,1.3,1.9,3.0,3.5,2.1,2.1,0.7,1.1,0.6,
        0.5,1.0,0.6,1.2,1.5,2.3,4.0,4.4,2.8,2.3,0.8,1.2,0.6,
        1.0,0.5,0.8,0.4,1.2,1.9,3.5,4.2,2.6,2.0,1.2,0.6,0.9,
        0.6,1.1,0.7,1.2,1.5,2.4,4.5,6.0,4.5,3.4,1.2,1.8,0.9,
        1.3,0.8,1.0,0.6,1.4,2.1,3.8,4.4,2.5,2.3,1.5,0.9,1.2,
        0.9,1.4,1.0,1.7,2.2,2.6,4.1,5.8,6.4,7.3,2.0,2.8,1.9,
        2.3,3.2,2.7,3.8,3.7,5.4,9.1,15.8,20.9,16.3,6.4,0,None,
        1.9,2.9,1.6,2.6,2.3,3.3,6.0,10.6,14.0,8.6,2.9,4.4,2.4,
        1.8]
ZAMBOANGA_SIBUGAY = [0.8,0.8,0.9,1.0,1.2,2.4,3.5,2.3,2.9,1.4,1.0,0.8,0.8,
        0.7,0.6,0.7,0.7,0.9,1.6,2.4,2.8,1.7,1.7,0.9,0.7,0.7,
        0.6,0.6,0.7,0.8,1.0,1.4,2.2,2.9,3.5,2.6,1.0,0.8,0.7,
        0.6,0.6,0.6,0.6,0.8,1.4,2.6,3.4,2.0,1.5,0.8,0.7,0.6,
        0.7,0.7,0.7,0.8,1.1,1.9,3.6,4.7,3.5,2.7,1.4,1.0,0.9,
        0.8,0.7,0.7,0.8,1.0,1.7,3.0,3.6,2.0,1.9,1.0,0.9,0.8,
        0.9,0.9,1.0,1.1,1.4,2.3,4.5,5.6,4.2,3.4,2.2,1.7,1.8,
        2.2,2.3,2.4,2.6,2.9,4.2,7.0,12.2,16.4,13.1,4.9,0,None,
        2.0,1.8,1.6,1.4,1.6,2.4,4.6,8.2,10.5,6.6,3.3,2.4,1.8,
        1.3]

PROVINCES = ["ABRA","AGUSAN DEL NORTE","AGUSAN DEL SUR","ALBAY","AURORA","BATAAN",
             "BENGUET","BILIRAN","BUKIDNON","BULACAN","CAGAYAN","CAMARINES NORTE",
             "CAMARINES SUR","CATANDUANES","CEBU","COMPOSTELA VALLEY",
             "COTABATO (NORTH COTABATO)","DAVAO DEL NORTE","GUIMARAS","IFUGAO",
             "ILOCOS NORTE","ILOILO","ISABELA","LEYTE","MASBATE","MISAMIS OCCIDENTAL",
             "MISAMIS ORIENTAL","MOUNTAIN PROVINCE","NEGROS OCCIDENTAL","NUEVA VIZCAYA",
             "OCCIDENTAL MINDORO","PAMPANGA","SAMAR (WESTERN SAMAR)","SARANGANI",
             "SORSOGON","SURIGAO DEL SUR","ZAMBALES","ZAMBOANGA DEL NORTE",
             "ZAMBOANGA DEL SUR","ZAMBOANGA SIBUGAY"]
VALUES = [ABRA, AGUSAN_DEL_NORTE, AGUSAN_DEL_SUR, ALBAY, AURORA, BATAAN,
          BENGUET, BILIRAN, BUKIDNON, BULACAN, CAGAYAN, CAMARINES_NORTE,
          CAMARINES_SUR, CATANDUANES, CEBU, COMPOSTELA_VALLEY,
          COTABATO, DAVAO_DEL_NORTE, GUIMARAS, IFUGAO,
          ILOCOS_NORTE, ILOILO, ISABELA, LEYTE, MASBATE, MISAMIS_OCCIDENTAL,
          MISAMIS_ORIENTAL, MOUNTAIN_PROVINCE, NEGROS_OCCIDENTAL, NUEVA_VIZCAYA,
          OCCIDENTAL_MINDORO, PAMPANGA, SAMAR_WESTERN_SAMAR, SARANGANI,
          SORSOGON, SURIGAO_DEL_SUR, ZAMBALES, ZAMBOANGA_DEL_NORTE,
          ZAMBOANGA_DEL_SUR, ZAMBOANGA_SIBUGAY]

# ---------------- styles ----------------
COLORS = ["#3A62A0","#953735","#77933C","#604A7B","#31859C","#E46C0A",
          "#3E68AA","#A83C39","#8AAB4A","#7A62A0","#3FA2BC","#F2812A",
          "#4F81BD","#C0504D","#9BBB59","#8064A2","#4BACC6","#F79646",
          "#5A8AC6","#C8625F","#A7C46E","#8C74B0","#5FB6CE","#F8A15E",
          "#6A8FCA","#C05A57","#AFC97A","#9983B5","#6FBDD1","#F9AB6B",
          "#95B3D7","#D99694","#C3D69B","#B3A2C7","#93CDDD","#FAC090",
          "#B9C3E2","#E6B9B8","#D7E0BD","#CCC6D6"]
THRESH_COLOR = "#C62828"
THRESH_DASH = "4px,2.5px"
FONT = "Lato, 'Liberation Sans', sans-serif"
GRID = "#A6A6A6"

for v in VALUES:
    assert len(v) == N_POINTS, len(v)

dates = pd.date_range(START_DATE, periods=N_POINTS, freq="28D")
tick_dates = pd.date_range(START_DATE, periods=len(TICK_LABELS), freq="56D")

fig = go.Figure()
fig.add_trace(go.Scatter(x=dates, y=[THRESHOLD] * N_POINTS, mode="lines",
                         name="Threshold", showlegend=False,
                         line=dict(color=THRESH_COLOR, width=2, dash=THRESH_DASH)))
for name, vals, col in zip(PROVINCES, VALUES, COLORS):
    fig.add_trace(go.Scatter(x=dates, y=vals, mode="lines", name=name,
                             showlegend=False, connectgaps=False,
                             line=dict(color=col, width=1.1)))

# ---------------- layout ----------------
W, H = 793, 600
ML, MR, MT, MB = 34, 7, 8, 156
PW, PH = W - ML - MR, H - MT - MB

def fx(px):
    return (px - ML) / PW

def fy(py):
    return (H - MB - py) / PH

fig.update_layout(
    width=W, height=H, margin=dict(l=ML, r=MR, t=MT, b=MB, autoexpand=False),
    paper_bgcolor="white", plot_bgcolor="white",
    font=dict(family=FONT, size=10, color="#000000"),
    showlegend=False,
    xaxis=dict(type="date", range=["2002-12-23", "2011-12-30"], automargin=False,
               tickmode="array", tickvals=list(tick_dates), ticktext=TICK_LABELS,
               tickangle=-90, tickfont=dict(size=11, family=FONT),
               showgrid=False, zeroline=False, showline=True, linecolor=GRID,
               linewidth=1, ticks="outside", ticklen=4, tickcolor=GRID),
    yaxis=dict(range=[0, 50], dtick=5, tick0=0, showgrid=True, gridcolor=GRID,
               automargin=False,
               gridwidth=1, zeroline=False, showline=True, linecolor=GRID,
               linewidth=1, ticks="outside", ticklen=4, tickcolor=GRID,
               tickfont=dict(size=10.5, family=FONT)),
)

# y-axis title
fig.add_annotation(text="<b>Dengue Incidence Per 100,000 Population</b>",
                   xref="paper", yref="paper", x=fx(6), y=fy(230),
                   xanchor="center", yanchor="middle", textangle=-90,
                   showarrow=False, font=dict(size=9, family=FONT))

# legend (5 columns, drawn as shapes + text)
ENTRIES = [("Threshold", THRESH_COLOR, THRESH_DASH, 2)] + \
          [(n, c, "solid", 1.5) for n, c in zip(PROVINCES, COLORS)]
COL_X = [38, 189, 341, 493, 646]
ROW0, ROWH = 496.7, 12.2
for i, (name, col, dash, lw) in enumerate(ENTRIES):
    r, c = divmod(i, 5)
    py = ROW0 + ROWH * r
    x0 = COL_X[c]
    fig.add_shape(type="line", xref="paper", yref="paper",
                  x0=fx(x0), x1=fx(x0 + 25), y0=fy(py), y1=fy(py),
                  line=dict(color=col, width=lw, dash=dash))
    fig.add_annotation(text=name, xref="paper", yref="paper",
                       x=fx(x0 + 28), y=fy(py), xanchor="left", yanchor="middle",
                       showarrow=False, font=dict(size=8.5, family=FONT))

# remove the default 8px page margin so the figure fills the window exactly
fig.write_html("out.html",
               config={"displayModeBar": False, "staticPlot": True},
               post_script="document.body.style.margin='0';document.body.style.overflow='hidden';")
